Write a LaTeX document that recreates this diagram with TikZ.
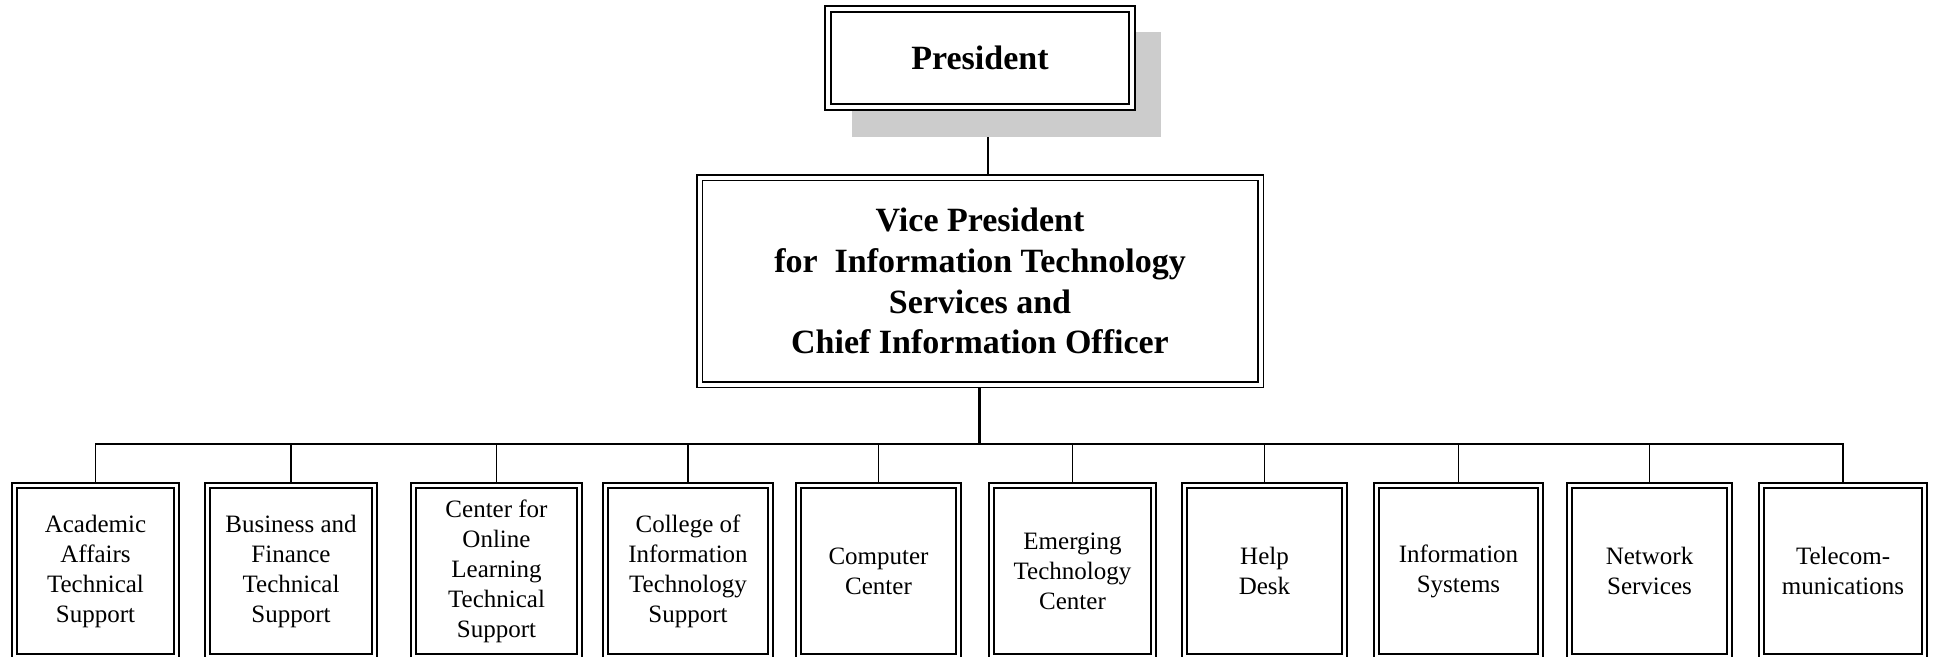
\documentclass[tikz,border=0pt]{standalone}
\usepackage{fontspec}
\setmainfont{Liberation Serif}
\pgfdeclarelayer{bg}
\pgfsetlayers{bg,main}
\begin{document}
\begin{tikzpicture}[x=1pt,y=-1pt,
  dbox/.style={draw, double=white, double distance=3.6pt, line width=1.4pt, fill=white,
    inner sep=0pt, align=center, font=\fontsize{25}{30}\selectfont},
  topbox/.style={dbox, double distance=4.0pt, line width=1.7pt,
    font=\fontsize{34}{40.8}\selectfont\bfseries},
  shadowbox/.style={fill=black!20, draw=none},
  thinline/.style={line width=1.5pt},
  busline/.style={line width=2.6pt},
  vline/.style={line width=3pt},
  pline/.style={line width=1.8pt}]
\useasboundingbox (0,0) rectangle (1933,656);
% shadow of President box
\fill[shadowbox] (852,32) rectangle (1161,137);
% top boxes
\node[topbox, minimum width=304pt, minimum height=98pt] (pres) at (980,58) {President};
\node[topbox, minimum width=561pt, minimum height=207pt] (vp) at (980,281)
  {Vice President\\for\ \ Information Technology\\Services and\\Chief Information Officer};
% bottom boxes
\node[dbox, minimum width=162pt, minimum height=171pt] (b1) at (95.5,571) {Academic\\Affairs\\Technical\\Support};
\node[dbox, minimum width=167pt, minimum height=171pt] (b2) at (291,571) {Business and\\Finance\\Technical\\Support};
\node[dbox, minimum width=166pt, minimum height=171pt] (b3) at (496.5,571) {Center for\\Online\\Learning\\Technical\\Support};
\node[dbox, minimum width=165pt, minimum height=171pt] (b4) at (688,571) {College of\\Information\\Technology\\Support};
\node[dbox, minimum width=160pt, minimum height=171pt] (b5) at (878.5,571) {Computer\\Center};
\node[dbox, minimum width=162pt, minimum height=171pt] (b6) at (1072.5,571) {Emerging\\Technology\\Center};
\node[dbox, minimum width=160pt, minimum height=171pt] (b7) at (1264.5,571) {Help\\Desk};
\node[dbox, minimum width=164pt, minimum height=171pt] (b8) at (1458.5,571) {Information\\Systems};
\node[dbox, minimum width=160pt, minimum height=171pt] (b9) at (1649.5,571) {Network\\Services};
\node[dbox, minimum width=163pt, minimum height=171pt] (b10) at (1843,571) {Telecom-\\munications};
\coordinate (hub) at (979,444);
\begin{pgfonlayer}{bg}
  \draw[pline] ([xshift=8pt]pres.south) -- ([xshift=8pt]pres.south |- vp.north);
  \draw[vline] (vp.south -| hub) -- (hub);
  \draw[thinline, line cap=rect] (b1.north |- hub) -- (b2.north |- hub);
  \draw[busline] (b2.north |- hub) -- (b9.north |- hub);
  \draw[thinline, line cap=rect] (b9.north |- hub) -- (b10.north |- hub);
  \foreach \i in {1,...,10} {
    \draw[thinline] (b\i.north |- hub) -- (b\i.north);
  }
\end{pgfonlayer}
\end{tikzpicture}
\end{document}
